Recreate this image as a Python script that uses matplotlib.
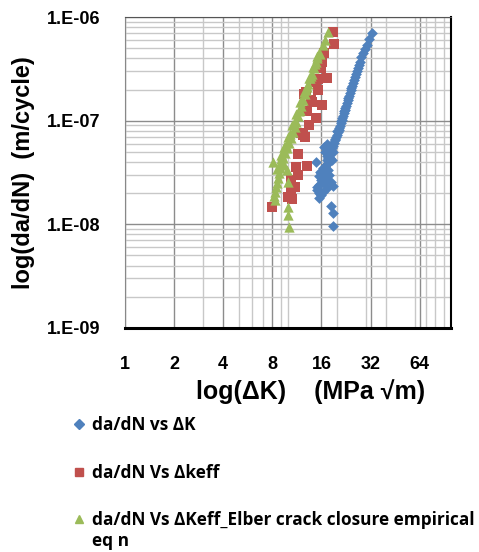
import matplotlib
matplotlib.use('Agg')
from matplotlib import pyplot as plt
from matplotlib.lines import Line2D
from matplotlib.ticker import LogLocator, NullFormatter

# da/dN vs dK  (blue)
dk = [32.7, 30.45, 28.77, 27.58, 26.8, 26.05, 25.33, 24.62, 24.27, 23.6, 23.26, 22.6, 22.3,
      21.67, 21.37, 20.77, 20.48, 19.9, 19.35, 18.81, 18.28, 17.77, 17.27, 17.03, 17.52,
      16.55, 15.87, 15.42, 14.99, 15.42, 16.32, 17.27, 18.28, 18.81, 14.78, 18.28, 18.81,
      18.81, 16.8, 17.6, 16.3, 15.7, 17.77, 18.81, 17.27, 18.6, 17.52, 16.9, 16.32, 17.77,
      15.87, 17.03, 15.42, 16.55, 14.99, 15.42, 15.87, 18.1, 17.3, 16.7,
      31.5, 29.5, 28.1, 27.2, 26.4, 25.7, 25.0, 24.4, 23.9, 23.4, 22.9, 22.45, 22.0,
      21.5, 21.1, 20.6, 20.2, 19.6, 19.1, 18.5, 21.9, 21.0, 20.0, 19.3, 18.4]
dadn_k = [7.01e-7, 5.37e-7, 4.50e-7, 3.68e-7, 3.22e-7, 2.82e-7, 2.47e-7, 2.16e-7, 1.98e-7,
          1.73e-7, 1.58e-7, 1.39e-7, 1.27e-7, 1.11e-7, 1.02e-7, 8.89e-8, 8.13e-8, 7.28e-8,
          6.51e-8, 5.70e-8, 5.21e-8, 4.67e-8, 4.18e-8, 3.74e-8, 3.35e-8, 2.99e-8, 2.68e-8,
          2.40e-8, 2.15e-8, 1.80e-8, 2.05e-8, 2.24e-8, 2.56e-8, 2.34e-8, 4.00e-8, 1.50e-8,
          1.29e-8, 9.66e-9, 4.99e-8, 4.37e-8, 3.50e-8, 3.20e-8, 5.4e-8, 5.0e-8, 4.6e-8,
          4.2e-8, 3.9e-8, 3.6e-8, 3.3e-8, 3.0e-8, 3.1e-8, 2.8e-8, 2.9e-8, 2.5e-8, 2.3e-8,
          2.0e-8, 1.9e-8, 4.4e-8, 6.0e-8, 5.6e-8,
          6.2e-7, 4.9e-7, 4.1e-7, 3.45e-7, 3.0e-7, 2.65e-7, 2.3e-7, 2.05e-7, 1.85e-7,
          1.65e-7, 1.48e-7, 1.33e-7, 1.19e-7, 1.06e-7, 9.5e-8, 8.5e-8, 7.7e-8, 6.9e-8,
          6.1e-8, 5.4e-8, 1.25e-7, 1.0e-7, 8.0e-8, 6.6e-8, 5.8e-8]

# da/dN vs dKeff  (red)
dkeff = [18.81, 19.08, 16.55, 16.09, 15.87, 17.27, 15.2, 14.78, 15.2, 12.83, 12.47, 13.77,
         13.96, 16.09, 13.01, 14.78, 13.38, 11.95, 12.65, 12.29, 11.45, 11.13, 13.01, 11.45,
         10.37, 10.97, 10.37, 9.94, 10.52, 7.92]
dadn_keff = [7.16e-7, 5.49e-7, 4.50e-7, 3.68e-7, 3.22e-7, 2.58e-7, 2.52e-7, 2.36e-7, 1.98e-7,
             1.89e-7, 1.81e-7, 1.58e-7, 1.51e-7, 1.42e-7, 1.24e-7, 1.06e-7, 9.10e-8, 7.61e-8,
             6.96e-8, 7.28e-8, 4.77e-8, 3.58e-8, 3.66e-8, 2.99e-8, 2.68e-8, 2.30e-8, 2.05e-8,
             1.84e-8, 1.76e-8, 1.47e-8]

# da/dN vs dKeff, Elber closure  (green)
dkeff_e = [17.52, 16.32, 15.42, 14.99, 14.78, 14.37, 13.96, 13.57, 13.2, 12.83, 12.65, 12.29,
           11.95, 11.78, 11.45, 11.13, 10.97, 10.67, 10.37, 10.08, 9.8, 9.53, 9.26, 9.13,
           8.87, 8.75, 8.62, 8.5, 8.38, 8.27, 8.15, 8.03, 9.94, 9.94, 9.94, 10.08, 9.0,
           9.39, 9.8, 8.27, 15.6, 14.6, 13.8, 13.0, 12.2, 11.6, 10.9, 10.3, 9.7, 9.2, 8.9,
           16.8, 15.1, 14.2, 13.4, 12.5, 11.9, 11.2, 10.6, 10.0, 9.5, 9.0, 8.6]
dadn_keff_e = [7.16e-7, 5.37e-7, 4.50e-7, 4.03e-7, 3.68e-7, 3.22e-7, 2.82e-7, 2.58e-7,
               2.26e-7, 1.98e-7, 1.81e-7, 1.58e-7, 1.39e-7, 1.27e-7, 1.11e-7, 9.71e-8,
               8.69e-8, 7.78e-8, 6.81e-8, 6.10e-8, 5.46e-8, 4.89e-8, 4.37e-8, 3.91e-8,
               3.50e-8, 3.13e-8, 2.80e-8, 2.51e-8, 2.30e-8, 2.05e-8, 1.88e-8, 4.00e-8,
               2.56e-8, 1.47e-8, 1.23e-8, 9.44e-9, 4.67e-8, 3.74e-8, 3.35e-8, 1.72e-8,
               4.4e-7, 3.5e-7, 2.7e-7, 2.1e-7, 1.6e-7, 1.25e-7, 9.5e-8, 7.4e-8, 5.8e-8,
               4.6e-8, 3.8e-8,
               6.0e-7, 4.2e-7, 3.3e-7, 2.6e-7, 1.9e-7, 1.5e-7, 1.15e-7, 9.0e-8, 7.0e-8,
               5.6e-8, 4.3e-8, 3.4e-8]

x_major = [1, 2, 4, 8, 16, 32, 64]
x_minor = [3, 5, 6, 7, 9, 10, 20, 30, 40, 60, 70, 80, 90]
y_ticks = [1e-9, 1e-8, 1e-7, 1e-6]
y_labels = ['1.E-09', '1.E-08', '1.E-07', '1.E-06']

blue, red, green = '#4F81BD', '#C0504D', '#9BBB59'

fig = plt.figure(figsize=(4.79, 5.52), dpi=100)
ax = fig.add_axes([0.261, 0.406, 0.681, 0.563])

ax.scatter(dk, dadn_k, marker='D', s=30, color=blue, linewidths=0, zorder=3)
ax.scatter(dkeff, dadn_keff, marker='s', s=55, color=red, linewidths=0, zorder=3)
ax.scatter(dkeff_e, dadn_keff_e, marker='^', s=55, color=green, linewidths=0, zorder=4)

ax.set_xscale('log')
ax.set_yscale('log')
ax.set_xlim(1, 100)
ax.set_ylim(1e-9, 1e-6)

ax.set_xticks(x_major)
ax.set_xticklabels([str(v) for v in x_major])
ax.set_xticks(x_minor, minor=True)
ax.xaxis.set_minor_formatter(NullFormatter())
ax.set_yticks(y_ticks)
ax.set_yticklabels(y_labels)
ax.yaxis.set_minor_locator(LogLocator(base=10, subs=range(2, 10)))
ax.yaxis.set_minor_formatter(NullFormatter())

ax.grid(True, which='major', color='#8C8C8C', linewidth=1.0)
ax.grid(True, which='minor', color='#C8C8C8', linewidth=1.0)
ax.set_axisbelow(True)

ax.tick_params(which='both', length=0)
ax.tick_params(axis='y', pad=18, labelsize=13)
ax.tick_params(axis='x', pad=20, labelsize=13)
for lbl in ax.get_xticklabels() + ax.get_yticklabels():
    lbl.set_fontweight('bold')
    lbl.set_family('Liberation Sans')

ax.spines['bottom'].set_color('black')
ax.spines['bottom'].set_linewidth(2.2)
ax.spines['right'].set_color('black')
ax.spines['right'].set_linewidth(1.5)
ax.spines['top'].set_color('#555555')
ax.spines['left'].set_color('#888888')

ax.set_xlabel('log(\u0394K)    (MPa \u221am)', fontsize=18, fontweight='bold',
              family='Liberation Sans')
ax.xaxis.set_label_coords(0.57, -0.165)
ax.set_ylabel('log(da/dN)  (m/cycle)', fontsize=17, fontweight='bold',
              family='Liberation Sans', labelpad=8)

handles = [Line2D([], [], marker='D', color=blue, linestyle='none', markersize=5),
           Line2D([], [], marker='s', color=red, linestyle='none', markersize=6),
           Line2D([], [], marker='^', color=green, linestyle='none', markersize=6)]
labels = ['da/dN vs \u0394K', 'da/dN Vs \u0394keff',
          'da/dN Vs \u0394Keff_Elber crack closure empirical']
fig.legend(handles, labels, loc='upper left', bbox_to_anchor=(0.14, 0.258),
           frameon=False, handlelength=0.6, handletextpad=0.45, labelspacing=1.7,
           borderaxespad=0, prop={'family': 'Open Sans', 'weight': 'bold', 'size': 12.4})
fig.text(0.192, 0.01, 'eq n', family='Open Sans', fontweight='bold', fontsize=12.4)

fig.savefig('out.png', dpi=100)
